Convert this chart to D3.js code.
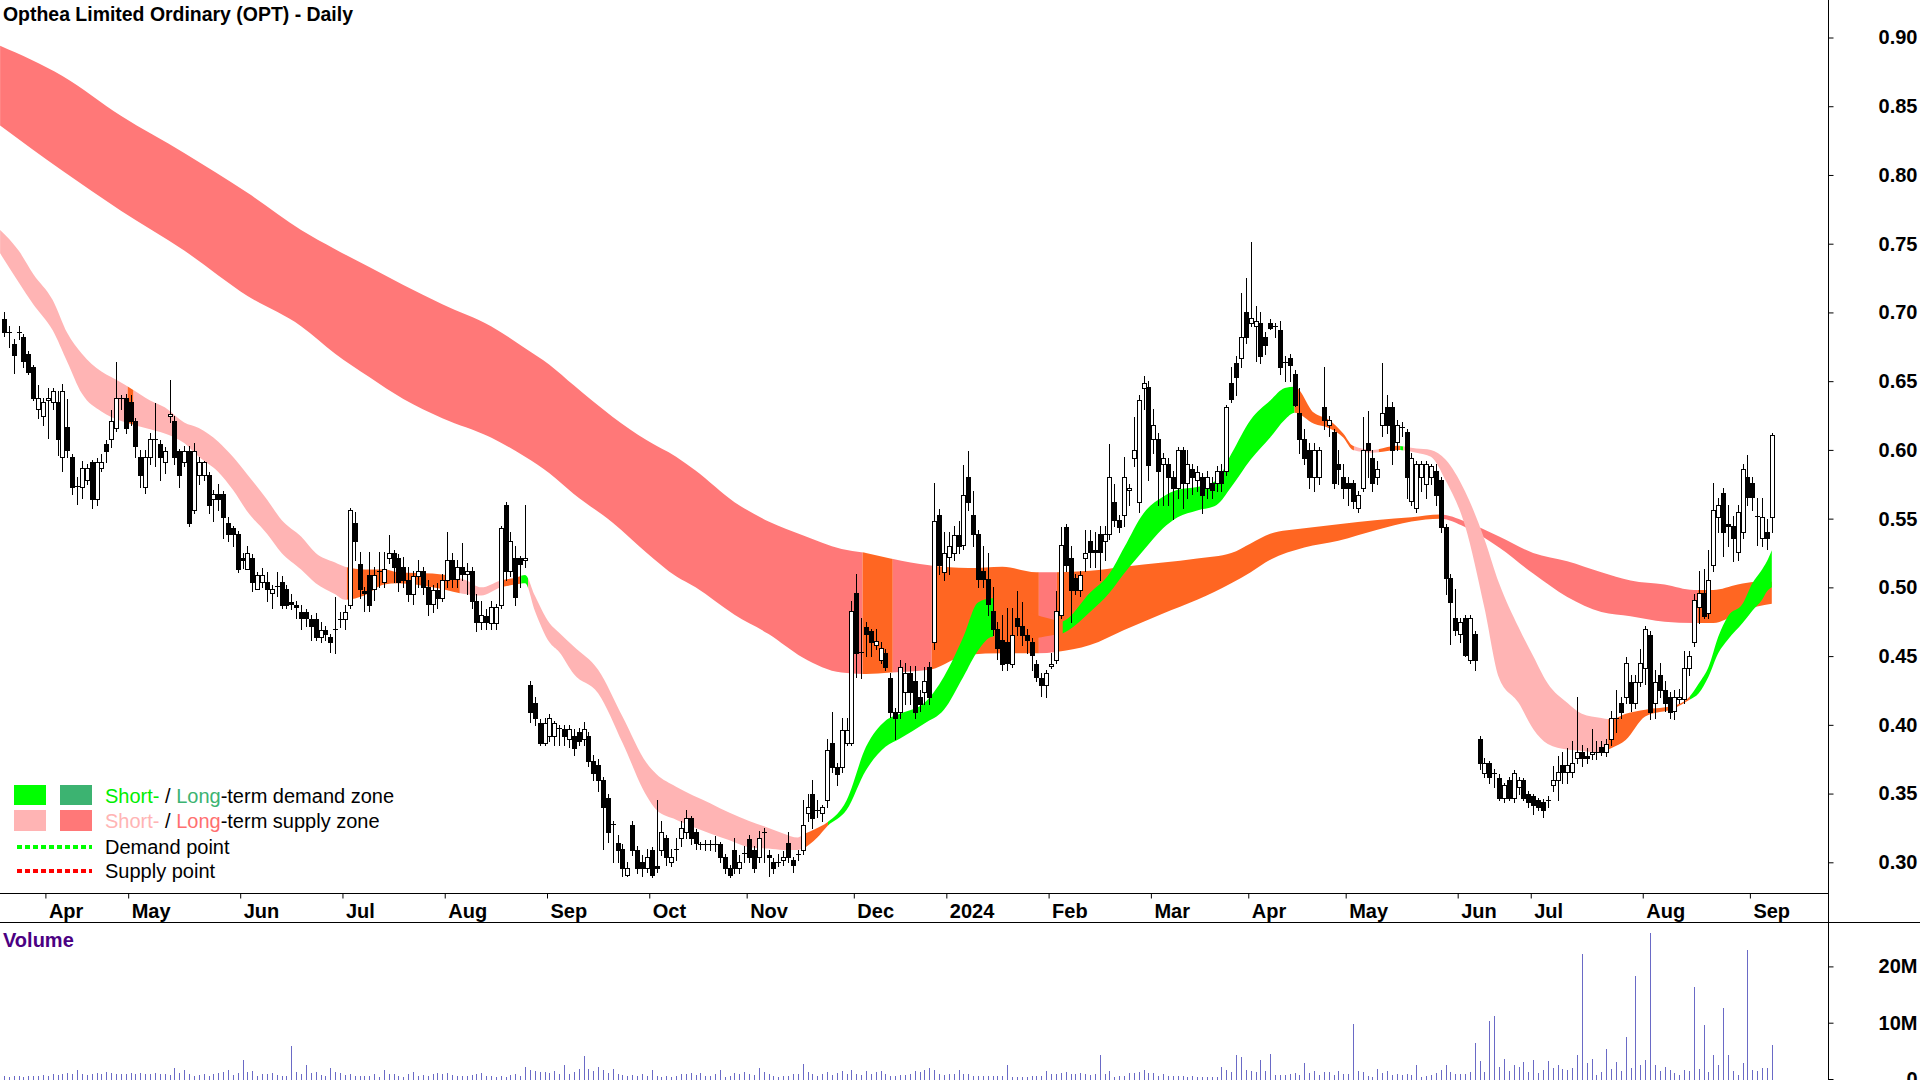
<!DOCTYPE html>
<html><head><meta charset="utf-8">
<script src="https://cdn.jsdelivr.net/npm/d3@7"></script>
<style>html,body{margin:0;padding:0;background:#fff}svg{display:block}</style>
</head><body>
<svg id="chart" width="1920" height="1080"></svg>
<script>
// ---------------- DATA ----------------
const chartTitle = "Opthea Limited Ordinary (OPT) - Daily";
const monthLabels = ["Apr","May","Jun","Jul","Aug","Sep","Oct","Nov","Dec","2024","Feb","Mar","Apr","May","Jun","Jul","Aug","Sep"];
const monthStartBar = [9,26,49,70,91,112,133,153,175,194,215,236,256,276,299,314,337,359];
const priceTicks = [0.30,0.35,0.40,0.45,0.50,0.55,0.60,0.65,0.70,0.75,0.80,0.85,0.90];
const volumeTicks = [0,10,20]; // millions

const opens = [
.695,.686,.677,.686,.682,.670,.660,.630,.625,.636, .635,.635,.595,.617,.595,.574,.573,.578,.591,.564,
.587,.604,.608,.616,.637,.638,.635,.621,.595,.573, .595,.607,.604,.591,.625,.621,.599,.591,.599,.556,
.582,.582,.582,.564,.568,.568,.547,.543,.539,.521, .513,.521,.499,.504,.504,.496,.500,.504,.499,.489,
.487,.482,.482,.477,.477,.464,.469,.464,.469,.476, .477,.487,.547,.517,.497,.509,.499,.511,.504,.521,
.525,.521,.515,.505,.495,.508,.512,.500,.488,.498, .492,.505,.520,.506,.515,.510,.512,.490,.475,.479,
.474,.474,.487,.560,.512,.521,.521,.520,.429,.416, .401,.387,.392,.392,.398,.397,.390,.392,.395,.390,
.392,.374,.371,.360,.347,.328,.314,.310,.291,.327, .309,.300,.296,.309,.297,.309,.318,.300,.310,.318,
.322,.332,.322,.313,.313,.313,.313,.313,.304,.296, .309,.296,.307,.317,.309,.304,.321,.305,.300,.300,
.302,.314,.302,.306,.309,.336,.350,.337,.336,.345, .387,.369,.369,.387,.387,.496,.453,.471,.468,.458,
.447,.452,.434,.409,.409,.424,.438,.432,.420,.424, .442,.460,.553,.511,.522,.525,.538,.531,.580,.553,
.539,.512,.506,.483,.470,.462,.460,.444,.478,.472, .465,.460,.444,.434,.429,.443,.447,.480,.544,.521,
.507,.498,.521,.534,.527,.539,.534,.539,.562,.549, .553,.571,.594,.562,.645,.646,.608,.608,.590,.590,
.580,.572,.600,.576,.586,.578,.580,.572,.576,.576, .585,.585,.649,.663,.667,.700,.692,.690,.692,.682,
.692,.690,.687,.663,.667,.655,.627,.608,.600,.580, .580,.631,.618,.613,.590,.580,.576,.576,.558,.572,
.605,.594,.580,.618,.631,.631,.606,.617,.613,.563, .558,.580,.575,.580,.585,.578,.544,.507,.478,.466,
.478,.447,.466,.390,.365,.372,.365,.361,.347,.360, .347,.355,.360,.350,.348,.345,.344,.345,.356,.360,
.371,.366,.366,.376,.380,.377,.379,.380,.384,.380, .390,.404,.416,.420,.431,.416,.431,.441,.465,.416,
.436,.425,.420,.410,.419,.419,.441,.460,.486,.496, .481,.516,.551,.569,.546,.545,.526,.540,.580,.576,
.552,.536,.540,.551];
const highs = [
.700,.690,.681,.690,.684,.672,.662,.647,.638,.645, .645,.643,.648,.637,.597,.580,.592,.590,.593,.594,
.597,.607,.629,.664,.640,.641,.640,.623,.600,.600, .612,.634,.607,.602,.651,.625,.601,.603,.603,.605,
.595,.592,.584,.571,.575,.570,.551,.545,.541,.525, .530,.524,.511,.514,.511,.502,.511,.508,.502,.495,
.490,.487,.484,.480,.481,.475,.472,.466,.493,.482, .487,.558,.555,.526,.500,.526,.515,.526,.526,.538,
.527,.524,.522,.515,.512,.520,.515,.505,.502,.503, .510,.540,.525,.520,.532,.518,.515,.495,.490,.484,
.490,.488,.545,.562,.540,.530,.523,.560,.432,.420, .404,.405,.408,.403,.400,.400,.400,.397,.398,.402,
.395,.378,.375,.362,.350,.330,.320,.313,.300,.330, .312,.305,.310,.311,.345,.330,.320,.310,.318,.330,
.338,.334,.324,.315,.316,.316,.319,.315,.306,.298, .318,.305,.312,.320,.312,.323,.325,.309,.303,.306,
.308,.322,.304,.309,.345,.350,.360,.345,.342,.390, .409,.372,.405,.405,.490,.510,.478,.475,.470,.470,
.460,.455,.438,.412,.447,.445,.443,.443,.425,.442, .446,.576,.557,.540,.540,.545,.548,.589,.599,.570,
.542,.530,.525,.500,.475,.480,.485,.485,.497,.489, .470,.463,.447,.438,.440,.452,.497,.544,.546,.530,
.510,.512,.542,.542,.540,.545,.545,.604,.575,.553, .595,.575,.624,.640,.654,.650,.630,.612,.598,.594,
.585,.602,.602,.600,.590,.588,.583,.585,.580,.588, .590,.633,.660,.668,.714,.725,.751,.705,.700,.686,
.695,.692,.694,.668,.670,.658,.645,.615,.605,.605, .602,.660,.625,.615,.600,.590,.580,.578,.570,.624,
.628,.600,.592,.663,.640,.635,.622,.620,.615,.598, .592,.592,.592,.590,.590,.580,.546,.510,.499,.478,
.480,.480,.468,.392,.376,.374,.368,.364,.358,.362, .367,.362,.361,.352,.350,.347,.346,.348,.370,.377,
.380,.383,.388,.420,.385,.383,.397,.388,.388,.390, .410,.425,.420,.449,.436,.436,.455,.472,.468,.440,
.445,.432,.424,.425,.426,.454,.454,.495,.512,.513, .527,.576,.565,.572,.560,.552,.560,.590,.596,.580,
.565,.565,.550,.612];
const lows = [
.683,.675,.656,.681,.660,.655,.636,.623,.618,.609, .630,.596,.585,.595,.568,.561,.565,.575,.558,.560,
.585,.591,.602,.614,.630,.612,.618,.595,.573,.569, .590,.588,.578,.583,.620,.590,.573,.588,.545,.554,
.575,.578,.554,.548,.556,.536,.534,.530,.511,.514, .513,.497,.499,.500,.490,.485,.494,.485,.485,.484,
.478,.470,.472,.462,.462,.460,.462,.453,.452,.471, .470,.485,.520,.492,.483,.483,.491,.500,.500,.518,
.504,.497,.500,.490,.488,.500,.495,.480,.482,.485, .490,.500,.500,.500,.505,.495,.485,.468,.470,.470,
.470,.470,.485,.505,.508,.487,.500,.515,.402,.400, .385,.385,.388,.385,.385,.385,.384,.378,.385,.385,
.370,.360,.352,.310,.315,.300,.300,.290,.290,.305, .292,.290,.293,.289,.293,.305,.298,.297,.302,.312,
.318,.313,.310,.310,.309,.309,.308,.300,.292,.289, .292,.292,.300,.300,.293,.300,.300,.290,.292,.297,
.298,.300,.293,.302,.306,.330,.325,.333,.330,.340, .366,.356,.366,.385,.385,.435,.434,.450,.450,.455,
.445,.440,.406,.390,.405,.415,.415,.405,.410,.415, .415,.455,.510,.505,.510,.520,.525,.528,.556,.530,
.500,.500,.480,.465,.448,.440,.440,.442,.465,.458, .452,.440,.432,.421,.420,.441,.445,.478,.512,.475,
.495,.494,.512,.515,.515,.505,.520,.535,.545,.540, .545,.560,.588,.555,.630,.578,.598,.560,.560,.560,
.550,.565,.558,.565,.568,.570,.554,.565,.565,.570, .570,.582,.635,.640,.660,.678,.690,.665,.663,.670,
.688,.682,.655,.650,.650,.632,.598,.590,.572,.570, .575,.615,.610,.572,.575,.565,.560,.558,.555,.570,
.580,.570,.575,.610,.612,.590,.600,.610,.565,.560, .555,.570,.565,.575,.560,.540,.495,.459,.465,.460,
.450,.445,.440,.368,.362,.358,.355,.345,.344,.345, .344,.350,.345,.340,.335,.338,.333,.340,.352,.345,
.358,.358,.362,.372,.370,.372,.375,.375,.378,.377, .385,.395,.405,.416,.410,.412,.428,.430,.404,.405,
.420,.410,.405,.404,.416,.416,.436,.457,.474,.478, .478,.512,.540,.523,.530,.519,.520,.536,.560,.556,
.531,.530,.528,.540];
const closes = [
.686,.686,.669,.686,.665,.657,.638,.638,.635,.638, .643,.608,.643,.600,.573,.573,.587,.587,.564,.591,
.591,.599,.621,.638,.638,.616,.621,.603,.582,.595, .608,.608,.595,.599,.626,.595,.582,.599,.547,.599,
.591,.591,.560,.568,.564,.551,.539,.539,.513,.520, .525,.504,.509,.509,.499,.499,.501,.487,.487,.488,
.486,.478,.478,.472,.464,.469,.466,.460,.470,.477, .482,.556,.534,.499,.496,.487,.509,.512,.513,.525,
.515,.504,.505,.495,.508,.512,.500,.488,.498,.492, .505,.520,.506,.515,.510,.512,.490,.475,.480,.475,
.486,.486,.543,.512,.534,.493,.517,.521,.409,.405, .387,.401,.405,.401,.397,.392,.397,.383,.388,.397,
.374,.365,.360,.340,.322,.327,.309,.296,.296,.309, .296,.296,.304,.291,.296,.322,.304,.304,.309,.325,
.332,.318,.314,.313,.313,.313,.313,.304,.296,.291, .296,.300,.307,.304,.296,.318,.322,.304,.296,.300,
.304,.304,.298,.306,.327,.340,.332,.338,.340,.382, .369,.364,.396,.396,.483,.452,.452,.466,.460,.461,
.456,.442,.409,.405,.442,.438,.424,.409,.415,.432, .420,.548,.516,.525,.530,.538,.530,.567,.562,.539,
.506,.506,.488,.470,.456,.444,.445,.465,.472,.465, .462,.451,.435,.429,.438,.444,.483,.531,.516,.498,
.498,.509,.525,.526,.526,.526,.539,.580,.549,.544, .580,.572,.600,.636,.649,.589,.618,.585,.594,.580,
.572,.600,.576,.590,.580,.584,.567,.580,.571,.585, .576,.631,.637,.653,.682,.682,.696,.694,.668,.676,
.689,.690,.660,.664,.662,.633,.608,.594,.580,.600, .600,.622,.622,.576,.586,.572,.572,.563,.567,.600,
.600,.576,.586,.627,.618,.600,.618,.617,.580,.594, .590,.590,.590,.588,.567,.544,.507,.489,.469,.475,
.451,.478,.447,.372,.372,.362,.365,.347,.356,.347, .365,.360,.347,.344,.342,.340,.338,.345,.360,.366,
.366,.371,.372,.380,.376,.376,.380,.380,.380,.386, .405,.405,.409,.445,.416,.431,.445,.470,.409,.431,
.425,.416,.409,.420,.420,.441,.450,.491,.496,.479, .505,.556,.560,.540,.545,.536,.555,.586,.566,.566,
.551,.551,.536,.611];
// volume in millions of shares
const volumes = [
.5,.4,.6,.5,.4,.5,.6,.5,.7,.6, .8,.7,.9,1.0,.8,1.6,.9,.7,.8,1.0,
.9,1.3,1.1,.9,.8,.8,1.0,.9,1.0,.8, .9,1.0,.8,.9,.7,1.9,1.1,1.6,.8,.6,
.7,.9,.6,.8,1.1,1.3,1.6,.7,1.0,3.4, 1.2,1.4,.6,.8,.9,1.0,.7,.6,.5,5.9,
1.3,.8,2.5,1.1,1.3,.7,.6,1.9,1.3,1.1, .7,.8,.6,.5,.6,.5,.8,.4,1.6,.8,
.8,.5,.4,.8,1.2,.6,.7,.6,.9,1.1, .8,1.0,.7,.6,.5,.5,.7,.9,1.0,.6,
.6,.4,.5,.4,.7,.8,.6,2.2,1.6,1.4, 1.3,1.2,1.1,1.4,.9,2.5,.8,1.2,1.7,4.0,
1.7,1.4,2.2,1.6,1.0,1.7,.8,.7,.6,.7, .5,.8,.6,1.6,.6,.4,.5,.4,.6,.8,
.9,1.0,.7,1.0,.5,.6,.8,1.6,.4,.6, 1.0,.9,1.2,.8,.7,1.9,1.3,.8,.6,.4,
.5,.6,.8,.9,2.7,1.2,.8,.6,.9,1.3, .7,1.0,1.5,.9,1.6,.8,.7,1.5,.9,1.3,
1.4,.8,.6,.6,.7,.7,.8,1.5,1.2,1.6, 1.9,1.6,.8,.7,.8,.9,1.6,.8,.8,.6,
.6,.5,.6,.5,.6,.5,2.5,.4,.4,.4, .4,.6,.6,.5,1.4,.9,.8,1.0,1.2,.8,
.8,1.1,.8,.7,.9,4.2,.8,1.4,.4,.6, .6,1.0,1.1,1.3,1.6,1.1,1.0,.6,.8,.6,
.6,.6,.6,.4,.5,.4,.4,.4,.4,.4, 2.2,1.6,1.2,4.2,3.9,1.6,1.4,1.2,3.4,1.4,
4.4,.7,.7,.7,.9,1.0,.7,2.9,1.0,1.4, .7,1.2,1.2,.7,1.4,.8,.8,9.8,1.4,1.2,
.5,.4,1.8,1.0,1.4,.7,.8,.7,.8,.7, 2.5,.4,.5,.7,1.0,1.6,2.5,1.2,.8,.8,
.8,1.2,6.4,3.2,1.3,10.3,11.2,2.1,3.5,1.4, 2.5,2.2,3.0,1.2,3.4,1.0,1.6,3.2,1.9,2.5,
1.8,1.6,1.9,4.2,22.2,2.8,3.5,.7,1.2,5.4, 1.8,3.0,1.4,7.5,1.9,18.3,2.4,3.4,26.0,2.4,
1.4,2.1,1.6,1.0,.7,1.6,1.4,16.3,1.8,9.6, 1.2,4.2,2.5,12.6,4.2,1.4,.7,2.8,22.9,1.6,
1.4,1.9,1.9,6.0];

// zone bands: bar index, lower edge, upper edge (price)
const longBandBar  = [-0.8,12,24,37,50,61,68,75,82,90,100,107,112,117,125,132,138,142,150,157,164,172,177,182,190,198,205,212,216,223,230,238,245,252,256,260,267,274,282,289,295,300,307,314,321,328,334,341,347,351,356,360,363];
const longBandLow  = [.836,.803,.774,.745,.712,.690,.670,.653,.637,.623,.609,.595,.583,.568,.547,.525,.508,.500,.480,.466,.449,.438,.437,.438,.440,.451,.452,.452,.453,.458,.469,.481,.491,.503,.511,.520,.529,.534,.542,.548,.550,.544,.529,.510,.493,.482,.479,.475,.474,.474,.481,.486,.488];
const longBandHigh = [.894,.872,.843,.816,.787,.760,.746,.733,.720,.706,.690,.674,.662,.647,.624,.607,.595,.585,.562,.548,.538,.528,.525,.521,.516,.514,.515,.511,.511,.512,.515,.518,.521,.525,.532,.539,.543,.546,.549,.551,.553,.548,.537,.525,.519,.511,.505,.502,.498,.498,.502,.504,.504];

const shortBandBar  = [-0.8,3,6,10,13,16,20,22,25,30,33,37,40,44,47,50,54,57,61,64,68,70,74,78,81,88,95,98,102,105,107,109,112,114,117,122,127,132,134,138,145,149,153,157,160,163,164,167,169,173,177,181,184,189,193,197,200,203,207,211,215,217,223,227,230,234,238,241,245,249,252,256,260,263,265,269,272,275,277,281,286,290,293,296,300,304,307,311,314,317,321,324,328,330,333,337,343,346,348,350,352,354,357,359,361,362,363];
const shortBandLow  = [.743,.722,.706,.687,.664,.641,.628,.624,.620,.615,.612,.605,.595,.584,.571,.555,.539,.525,.513,.503,.495,.491,.494,.502,.503,.500,.495,.494,.500,.502,.503,.483,.460,.453,.437,.423,.387,.348,.338,.331,.321,.316,.311,.310,.309,.309,.310,.318,.326,.338,.367,.384,.390,.401,.411,.435,.454,.464,.463,.463,.465,.466,.482,.496,.510,.527,.543,.551,.556,.560,.573,.593,.609,.622,.627,.619,.616,.609,.600,.598,.600,.598,.595,.578,.545,.485,.434,.416,.397,.386,.382,.381,.380,.383,.389,.406,.412,.418,.423,.435,.452,.462,.474,.483,.491,.497,.500];
const shortBandHigh = [.760,.745,.728,.709,.685,.670,.657,.653,.647,.636,.631,.620,.616,.606,.595,.582,.564,.549,.537,.525,.518,.515,.513,.513,.511,.510,.505,.500,.505,.507,.509,.494,.474,.467,.457,.440,.406,.372,.364,.355,.343,.336,.330,.325,.321,.318,.320,.325,.329,.345,.384,.403,.408,.416,.435,.464,.489,.492,.487,.481,.477,.475,.496,.510,.529,.554,.566,.571,.573,.578,.597,.622,.636,.645,.646,.627,.622,.612,.603,.600,.603,.601,.600,.593,.570,.535,.503,.471,.450,.430,.416,.408,.405,.404,.408,.411,.414,.420,.430,.442,.464,.479,.488,.503,.513,.519,.527];

// zone state by bar range: [fromBar, toBar, state]
const longZoneStates = [[-1,176.3,"supply"],[176.3,182.5,"neutral"],[182.5,190.5,"supply"],[190.5,212.5,"neutral"],[212.5,216.2,"supply"],[216.2,294.7,"neutral"],[294.7,347.8,"supply"],[347.8,365,"neutral"]];
const shortZoneStates = [[-1,25.4,"supply"],[25.4,26.6,"neutral"],[26.6,70.4,"supply"],[70.4,93.6,"neutral"],[93.6,101.7,"supply"],[101.7,106.2,"neutral"],[106.2,107.6,"demand"],[107.6,163.7,"supply"],[163.7,169.2,"neutral"],[169.2,203.1,"demand"],[203.1,217.4,"neutral"],[217.4,265,"demand"],[265,277.2,"neutral"],[277.2,282.3,"supply"],[282.3,286.7,"neutral"],[286.7,287.3,"demand"],[287.3,329.4,"supply"],[329.4,346.2,"neutral"],[346.2,365,"demand"]];

// ---------------- DRAW ----------------
const W = 1920, H = 1080;
const FONT = "'Liberation Sans', Arial, Helvetica, sans-serif";
const zoneColors = {
  short: {supply:"#ffb4b4", demand:"#00ff00", neutral:"#ff6622"},
  long:  {supply:"#ff7878", demand:"#3cb371", neutral:"#ff6622"}
};
const svg = d3.select("#chart");
const defs = svg.append("defs");

const axisX = 1828, xAxisY = 893, sepY = 922;
const x = d3.scaleLinear().domain([0, 363]).range([4, 1771.8]);
const yP = d3.scaleLinear().domain([0.30, 0.90]).range([862.3, 37.5]);
const yV = d3.scaleLinear().domain([0, 20]).range([1079, 966.4]);

defs.append("clipPath").attr("id","priceClip").append("rect")
  .attr("x",0).attr("y",0).attr("width",axisX).attr("height",xAxisY);

const area = d3.area().x(d=>x(d.b)).y0(d=>yP(d.lo)).y1(d=>yP(d.hi)).curve(d3.curveMonotoneX);
function drawBand(bars, lo, hi, states, colors, id){
  const data = bars.map((b,i)=>({b:b, lo:lo[i], hi:hi[i]}));
  const g = svg.append("g").attr("clip-path","url(#priceClip)");
  states.forEach((s,k)=>{
    const cid = id + "_" + k;
    defs.append("clipPath").attr("id",cid).append("rect")
      .attr("x", x(s[0])).attr("y",0).attr("width", Math.max(0, x(s[1]) - x(s[0]))).attr("height",H);
    g.append("path").attr("d", area(data)).attr("fill", colors[s[2]]).attr("clip-path", `url(#${cid})`);
  });
}
drawBand(longBandBar, longBandLow, longBandHigh, longZoneStates, zoneColors.long, "lz");
drawBand(shortBandBar, shortBandLow, shortBandHigh, shortZoneStates, zoneColors.short, "sz");

// candles
const cg = svg.append("g").attr("shape-rendering","crispEdges");
opens.forEach((o,i)=>{
  const c = closes[i];
  const h = Math.max(highs[i], o, c), l = Math.min(lows[i], o, c);
  const cx = Math.round(x(i));
  cg.append("line").attr("x1",cx+0.5).attr("x2",cx+0.5)
    .attr("y1",Math.round(yP(h))).attr("y2",Math.round(yP(l))+1).attr("stroke","#000").attr("stroke-width",1);
  const top = Math.round(yP(Math.max(o,c))), bot = Math.round(yP(Math.min(o,c)));
  if (bot - top < 2) {
    cg.append("line").attr("x1",cx-2).attr("x2",cx+3).attr("y1",top+0.5).attr("y2",top+0.5)
      .attr("stroke","#000").attr("stroke-width",1);
  } else {
    cg.append("rect").attr("x",cx-1.5).attr("y",top+0.5).attr("width",4).attr("height",bot-top)
      .attr("fill", c >= o ? "#fff" : "#000").attr("stroke","#000").attr("stroke-width",1);
  }
});

// volume bars
const vg = svg.append("g").attr("shape-rendering","crispEdges");
volumes.forEach((v,i)=>{
  const cx = Math.round(x(i));
  vg.append("rect").attr("x",cx).attr("y",yV(v)).attr("width",1.4).attr("height",yV(0)-yV(v)+1)
    .attr("fill","#6a6ac6");
});

// frame lines
const lg = svg.append("g").attr("shape-rendering","crispEdges").attr("stroke","#000").attr("stroke-width",1.5);
lg.append("line").attr("x1",axisX+0.5).attr("x2",axisX+0.5).attr("y1",0).attr("y2",H);
lg.append("line").attr("x1",0).attr("x2",axisX).attr("y1",xAxisY+0.5).attr("y2",xAxisY+0.5);
lg.append("line").attr("x1",0).attr("x2",W).attr("y1",sepY+0.5).attr("y2",sepY+0.5);

function styleAxis(g){
  g.select(".domain").remove();
  g.selectAll(".tick line").attr("stroke","#000");
  g.selectAll("text").attr("fill","#000").style("font-family",FONT).style("font-size","20px").style("font-weight","bold");
}
// price axis
const gy = svg.append("g").attr("transform",`translate(${axisX+0.5},0)`)
  .call(d3.axisRight(yP).tickValues(priceTicks).tickFormat(d3.format(".2f")).tickSize(5));
styleAxis(gy);
gy.selectAll("text").attr("x",89).attr("text-anchor","end");

// volume axis
const gv = svg.append("g").attr("transform",`translate(${axisX+0.5},0)`)
  .call(d3.axisRight(yV).tickValues(volumeTicks).tickFormat(d=> d===0 ? "0" : d + "M").tickSize(5));
styleAxis(gv);
gv.selectAll("text").attr("x",89).attr("text-anchor","end");

// time axis
const gx = svg.append("g").attr("transform",`translate(0,${xAxisY+0.5})`)
  .call(d3.axisBottom(x).tickValues(monthStartBar.map(b=>b-0.5)).tickFormat((d,i)=>monthLabels[i]).tickSize(5));
styleAxis(gx);
gx.selectAll("text").attr("x",3).attr("y",24).attr("dy",null).attr("text-anchor","start");

// title & panel label
svg.append("text").attr("x",3).attr("y",21).text(chartTitle)
  .style("font-family",FONT).style("font-size","21px").style("font-weight","bold")
  .attr("textLength",350).attr("lengthAdjust","spacingAndGlyphs");
svg.append("text").attr("x",3).attr("y",947).text("Volume").attr("fill","#4b0082")
  .style("font-family",FONT).style("font-size","20px").style("font-weight","bold");

// legend
const leg = svg.append("g").style("font-family",FONT).style("font-size","20px");
leg.append("rect").attr("x",14).attr("y",785).attr("width",32).attr("height",20).attr("fill",zoneColors.short.demand);
leg.append("rect").attr("x",60).attr("y",785).attr("width",32).attr("height",20).attr("fill",zoneColors.long.demand);
leg.append("rect").attr("x",14).attr("y",810).attr("width",32).attr("height",21).attr("fill",zoneColors.short.supply);
leg.append("rect").attr("x",60).attr("y",810).attr("width",32).attr("height",21).attr("fill",zoneColors.long.supply);
leg.append("line").attr("x1",17).attr("x2",92).attr("y1",847).attr("y2",847)
  .attr("stroke","#00ff00").attr("stroke-width",4).attr("stroke-dasharray","5,3");
leg.append("line").attr("x1",17).attr("x2",92).attr("y1",871).attr("y2",871)
  .attr("stroke","#ff0000").attr("stroke-width",4).attr("stroke-dasharray","5,3");
const t1 = leg.append("text").attr("x",105).attr("y",803);
t1.append("tspan").attr("fill","#00ee00").text("Short-");
t1.append("tspan").attr("fill","#000").text(" / ");
t1.append("tspan").attr("fill","#3cb371").text("Long");
t1.append("tspan").attr("fill","#000").text("-term demand zone");
const t2 = leg.append("text").attr("x",105).attr("y",828);
t2.append("tspan").attr("fill","#ffb4b4").text("Short-");
t2.append("tspan").attr("fill","#000").text(" / ");
t2.append("tspan").attr("fill","#ff7070").text("Long");
t2.append("tspan").attr("fill","#000").text("-term supply zone");
leg.append("text").attr("x",105).attr("y",854).attr("fill","#000").text("Demand point");
leg.append("text").attr("x",105).attr("y",878).attr("fill","#000").text("Supply point");
</script>
</body></html>
